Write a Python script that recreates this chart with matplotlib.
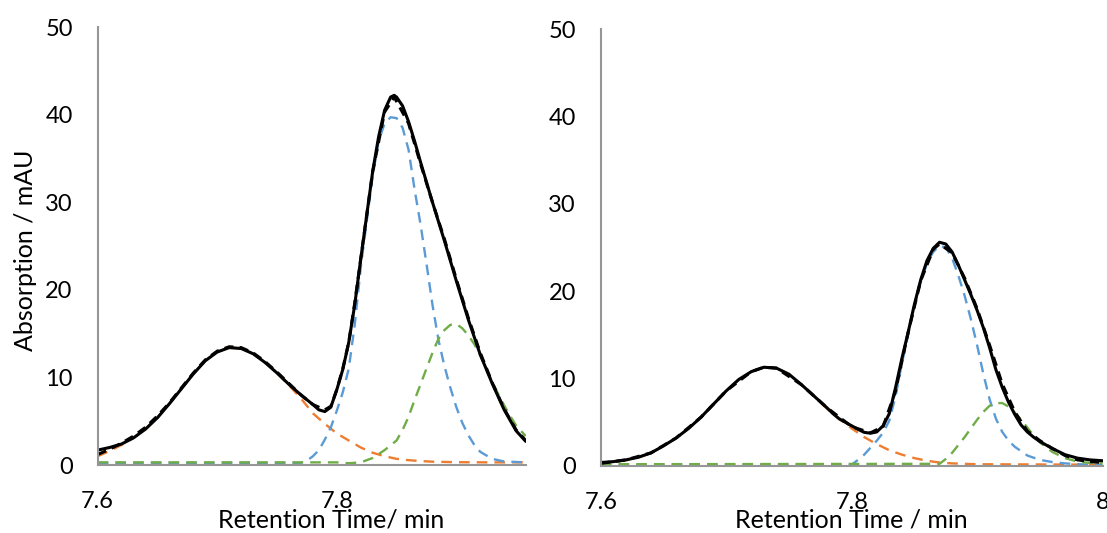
import matplotlib
matplotlib.use("Agg")
import matplotlib.pyplot as plt

plt.rcParams['font.family'] = ['Lato', 'DejaVu Sans']

# ---- left panel data (retention time / min, absorption / mAU) ----
left_meas_t = [7.600, 7.610, 7.620, 7.630, 7.640, 7.650, 7.660, 7.670, 7.680, 7.690,
               7.700, 7.710, 7.720, 7.730, 7.740, 7.750, 7.760, 7.770, 7.780, 7.785,
               7.790, 7.795, 7.800, 7.805, 7.810, 7.815, 7.820, 7.825, 7.830, 7.835,
               7.840, 7.845, 7.848, 7.850, 7.855, 7.860, 7.865, 7.870, 7.880, 7.890,
               7.900, 7.905, 7.910, 7.920, 7.930, 7.940, 7.950, 7.958]
left_meas_y = [1.7, 2.0, 2.4, 3.1, 4.1, 5.4, 7.0, 8.7, 10.4, 11.9,
               12.9, 13.4, 13.3, 12.7, 11.7, 10.5, 9.2, 8.0, 6.9, 6.3,
               6.1, 6.6, 8.6, 10.9, 14.0, 18.3, 23.5, 28.5, 33.5, 37.5,
               40.5, 42.0, 42.2, 42.0, 41.0, 39.2, 37.0, 34.6, 30.0, 25.6,
               21.0, 18.8, 16.6, 12.6, 9.3, 6.3, 3.9, 2.7]

left_fit_t = [7.600, 7.610, 7.620, 7.630, 7.640, 7.650, 7.660, 7.670, 7.680, 7.690,
              7.700, 7.710, 7.720, 7.730, 7.740, 7.750, 7.760, 7.770, 7.780, 7.790,
              7.795, 7.800, 7.805, 7.810, 7.815, 7.820, 7.830, 7.840, 7.848, 7.860,
              7.870, 7.880, 7.890, 7.900, 7.910, 7.920, 7.930, 7.940, 7.950, 7.958]
left_fit_y = [1.2, 1.8, 2.5, 3.3, 4.3, 5.6, 7.1, 8.8, 10.5, 12.0,
              13.0, 13.5, 13.4, 12.8, 11.8, 10.6, 9.3, 8.0, 6.9, 6.3,
              6.7, 8.6, 11.0, 14.0, 18.5, 23.5, 33.5, 40.3, 42.0, 39.0,
              34.4, 30.0, 25.8, 21.2, 16.8, 12.8, 9.4, 6.4, 4.0, 2.8]

left_orange_t = [7.600, 7.610, 7.620, 7.630, 7.640, 7.650, 7.660, 7.670, 7.680, 7.690,
                 7.700, 7.710, 7.720, 7.730, 7.740, 7.750, 7.760, 7.770, 7.780, 7.790,
                 7.800, 7.810, 7.820, 7.830, 7.840, 7.850, 7.860, 7.870, 7.880, 7.900,
                 7.930, 7.958]
left_orange_y = [1.0, 1.6, 2.3, 3.1, 4.1, 5.4, 7.0, 8.7, 10.4, 11.9,
                 12.9, 13.4, 13.3, 12.7, 11.7, 10.5, 9.1, 7.6, 5.9, 4.7,
                 3.6, 2.8, 2.0, 1.4, 1.0, 0.7, 0.55, 0.45, 0.38, 0.32,
                 0.3, 0.3]

left_blue_t = [7.600, 7.770, 7.775, 7.780, 7.785, 7.790, 7.795, 7.800, 7.805, 7.810,
               7.815, 7.820, 7.825, 7.830, 7.835, 7.840, 7.845, 7.850, 7.855, 7.860,
               7.865, 7.870, 7.875, 7.880, 7.885, 7.890, 7.895, 7.900, 7.905, 7.910,
               7.915, 7.920, 7.930, 7.940, 7.958]
left_blue_y = [0.25, 0.25, 0.5, 1.0, 1.7, 2.9, 4.3, 6.2, 8.3, 11.0,
               16.0, 22.5, 27.8, 33.0, 37.0, 39.0, 39.7, 39.6, 38.5, 36.0,
               31.5, 27.5, 23.0, 18.3, 14.3, 11.3, 8.8, 6.6, 4.8, 3.4,
               2.3, 1.5, 0.7, 0.4, 0.3]

left_green_t = [7.600, 7.800, 7.810, 7.820, 7.830, 7.840, 7.850, 7.855, 7.860, 7.865,
                7.870, 7.875, 7.880, 7.885, 7.890, 7.895, 7.900, 7.905, 7.910, 7.915,
                7.920, 7.925, 7.930, 7.935, 7.940, 7.945, 7.950, 7.958]
left_green_y = [0.3, 0.3, 0.2, 0.3, 0.8, 1.7, 2.8, 4.0, 5.5, 7.4,
                9.2, 11.0, 12.8, 14.4, 15.4, 16.0, 16.1, 15.6, 14.8, 13.8,
                12.5, 11.0, 9.5, 8.1, 6.8, 5.6, 4.5, 3.3]

# ---- right panel data ----
right_meas_t = [7.600, 7.610, 7.620, 7.630, 7.640, 7.650, 7.660, 7.670, 7.680, 7.690,
                7.700, 7.710, 7.720, 7.730, 7.740, 7.750, 7.760, 7.770, 7.780, 7.785,
                7.790, 7.800, 7.805, 7.810, 7.815, 7.820, 7.825, 7.830, 7.835, 7.840,
                7.845, 7.850, 7.855, 7.860, 7.865, 7.870, 7.875, 7.880, 7.885, 7.890,
                7.895, 7.900, 7.905, 7.910, 7.915, 7.920, 7.925, 7.930, 7.935, 7.940,
                7.945, 7.950, 7.960, 7.970, 7.980, 7.990, 8.000]
right_meas_y = [0.4, 0.5, 0.7, 1.0, 1.5, 2.3, 3.2, 4.3, 5.6, 7.1,
                8.6, 9.9, 10.8, 11.3, 11.2, 10.5, 9.3, 8.0, 6.7, 6.0,
                5.4, 4.6, 4.2, 3.85, 3.75, 3.9, 4.6, 6.0, 9.0, 12.3,
                15.3, 18.5, 21.3, 23.5, 24.9, 25.6, 25.4, 24.5, 23.0, 21.3,
                19.6, 17.8, 15.8, 13.5, 11.0, 9.0, 7.3, 5.9, 4.7, 3.9,
                3.3, 2.8, 2.0, 1.3, 0.9, 0.7, 0.6]

right_fit_t = [7.600, 7.620, 7.640, 7.660, 7.680, 7.700, 7.720, 7.730, 7.740, 7.760,
               7.780, 7.800, 7.815, 7.825, 7.835, 7.845, 7.855, 7.865, 7.870, 7.880,
               7.890, 7.900, 7.910, 7.920, 7.930, 7.940, 7.950, 7.960, 7.970, 7.980,
               7.990, 8.000]
right_fit_y = [0.3, 0.7, 1.5, 3.2, 5.6, 8.6, 10.8, 11.3, 11.2, 9.3,
               6.7, 4.5, 3.8, 4.5, 8.6, 15.3, 21.2, 24.8, 25.4, 24.4,
               21.5, 18.0, 13.8, 9.4, 6.2, 4.0, 2.9, 2.0, 1.2, 0.7,
               0.5, 0.4]

right_orange_t = [7.600, 7.610, 7.620, 7.630, 7.640, 7.650, 7.660, 7.670, 7.680, 7.690,
                  7.700, 7.710, 7.720, 7.730, 7.740, 7.750, 7.760, 7.770, 7.780, 7.790,
                  7.800, 7.810, 7.820, 7.830, 7.840, 7.850, 7.860, 7.870, 7.880, 7.900,
                  8.000]
right_orange_y = [0.3, 0.45, 0.65, 1.0, 1.5, 2.3, 3.2, 4.3, 5.6, 7.1,
                  8.6, 9.9, 10.8, 11.3, 11.2, 10.5, 9.3, 8.0, 6.6, 5.4,
                  4.3, 3.3, 2.5, 1.8, 1.3, 0.9, 0.6, 0.4, 0.3, 0.2,
                  0.15]

right_blue_t = [7.600, 7.800, 7.805, 7.810, 7.815, 7.820, 7.825, 7.830, 7.835, 7.840,
                7.845, 7.850, 7.855, 7.860, 7.865, 7.870, 7.875, 7.880, 7.885, 7.890,
                7.895, 7.900, 7.905, 7.910, 7.915, 7.920, 7.925, 7.930, 7.940, 7.950,
                7.960, 7.970, 7.980, 8.000]
right_blue_y = [0.15, 0.15, 0.7, 1.3, 2.1, 2.9, 3.8, 5.2, 8.0, 11.7,
                15.0, 18.3, 21.0, 23.2, 24.5, 25.2, 25.0, 23.8, 21.8, 19.5,
                16.8, 13.8, 10.5, 7.6, 5.4, 3.9, 2.9, 2.2, 1.2, 0.7,
                0.45, 0.3, 0.2, 0.1]

right_green_t = [7.600, 7.870, 7.875, 7.880, 7.885, 7.890, 7.895, 7.900, 7.905, 7.910,
                 7.915, 7.920, 7.925, 7.930, 7.935, 7.940, 7.945, 7.950, 7.960, 7.970,
                 7.980, 7.990, 8.000]
right_green_y = [0.2, 0.25, 0.8, 1.5, 2.4, 3.3, 4.3, 5.3, 6.2, 6.9,
                 7.2, 7.2, 6.8, 6.1, 5.3, 4.4, 3.5, 2.7, 1.6, 0.9,
                 0.5, 0.35, 0.3]

x_ticks = [7.6, 7.8, 8.0]
x_tick_labels = ['7.6', '7.8', '8']
y_ticks = [0, 10, 20, 30, 40, 50]

ORANGE = '#ED7D31'
BLUE = '#5B9BD5'
GREEN = '#70AD47'
AXIS_GREY = '#969696'

W, H = 1107, 533
fig = plt.figure(figsize=(W / 100, H / 100), dpi=100)
ax_l = fig.add_axes([97.7 / W, 1 - 465 / H, 428 / W, 438 / H])
ax_r = fig.add_axes([600.8 / W, 1 - 466 / H, 501.8 / W, 437 / H])


def draw_panel(ax, meas, fit, orange, blue, green, xmax):
    dash = (4.5, 3)
    ax.plot(*orange, color=ORANGE, lw=1.7, ls=(0, dash))
    ax.plot(*blue, color=BLUE, lw=1.7, ls=(0, dash))
    ax.plot(*green, color=GREEN, lw=1.7, ls=(0, dash))
    ax.plot(*fit, color='black', lw=2.2, ls=(0, (3, 2)))
    ax.plot(*meas, color='black', lw=2.2, solid_capstyle='round')
    ax.set_xticks(x_ticks)
    ax.set_xticklabels(x_tick_labels)
    ax.set_yticks(y_ticks)
    # limits after ticks, otherwise set_xticks widens the view to 8
    ax.set_xlim(7.6, xmax)
    ax.set_ylim(0, 50)
    ax.tick_params(length=0, labelsize=17)
    ax.tick_params(axis='x', pad=18.5)
    ax.tick_params(axis='y', pad=18)
    for s in ['top', 'right']:
        ax.spines[s].set_visible(False)
    for s in ['left', 'bottom']:
        ax.spines[s].set_color(AXIS_GREY)
        ax.spines[s].set_linewidth(1.5)
    ax.set_facecolor('none')


draw_panel(ax_l, (left_meas_t, left_meas_y), (left_fit_t, left_fit_y),
           (left_orange_t, left_orange_y), (left_blue_t, left_blue_y),
           (left_green_t, left_green_y), 7.958)
draw_panel(ax_r, (right_meas_t, right_meas_y), (right_fit_t, right_fit_y),
           (right_orange_t, right_orange_y), (right_blue_t, right_blue_y),
           (right_green_t, right_green_y), 8.0)

fig.text(331.5 / W, 1 - 527.5 / H, 'Retention Time/ min', ha='center', va='baseline', fontsize=18)
fig.text(851.5 / W, 1 - 527.5 / H, 'Retention Time / min', ha='center', va='baseline', fontsize=18)
fig.text(26 / W, 1 - 250 / H, 'Absorption / mAU', ha='center', va='center',
         rotation=90, fontsize=18)

fig.savefig('out.png', dpi=100)
